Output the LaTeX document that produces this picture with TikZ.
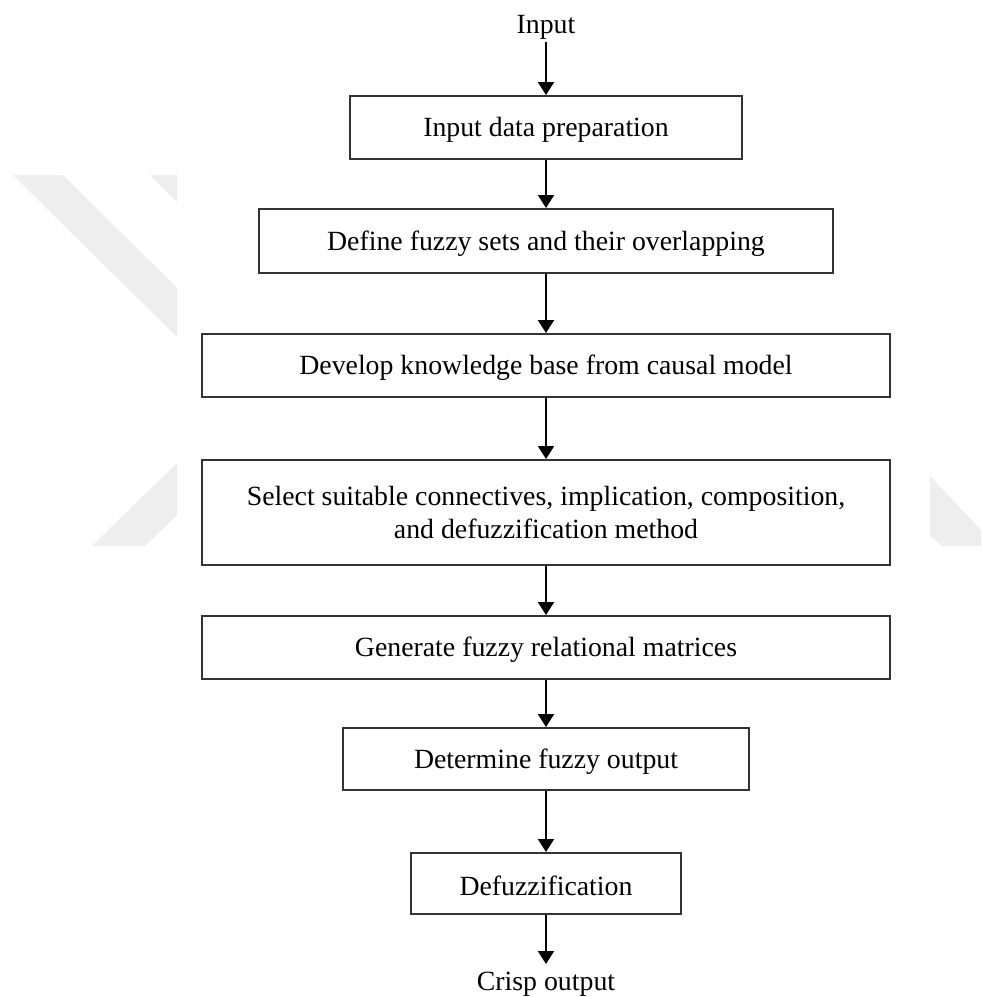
\documentclass[tikz,border=0pt]{standalone}
\usepackage{fontspec}
\setmainfont{Liberation Serif}
\usetikzlibrary{arrows.meta}
\definecolor{markgray}{HTML}{EEEEEE}
\definecolor{framegray}{HTML}{333333}
\newcommand{\lowered}[1]{\raisebox{-1.2pt}[\height][\depth]{#1}}
\tikzset{
  stepbox/.style={draw=framegray, line width=1pt, fill=white, inner sep=0pt,
    align=center, font=\fontsize{13.9}{16.5}\selectfont},
  endtext/.style={inner sep=1pt, font=\fontsize{13.9}{16.5}\selectfont},
  flow/.style={line width=1pt, -{Triangle[length=6.5pt, width=8pt]}}
}
\begin{document}
\begin{tikzpicture}[x=0.5pt, y=-0.5pt]
  \useasboundingbox (0,0) rectangle (981,997);
  % faint background mark
  \fill[markgray] (13,175) -- (63,175) -- (177,288) -- (177,337) -- cycle;
  \fill[markgray] (150,175) -- (177,175) -- (177,202) -- cycle;
  \fill[markgray] (177,463) -- (92,546) -- (145,546) -- (177,515) -- cycle;
  \fill[markgray] (930,476) -- (981,530) -- (981,546) -- (942,546) -- (930,536) -- cycle;

  % steps
  \node[endtext, anchor=south] (in) at (546,42) {Input};
  \node[stepbox, minimum width=196pt, minimum height=31.5pt] (b1) at (546,127.5) {\lowered{Input data preparation}};
  \node[stepbox, minimum width=287pt, minimum height=32pt] (b2) at (546,241) {\lowered{Define fuzzy sets and their overlapping}};
  \node[stepbox, minimum width=344pt, minimum height=31.5pt] (b3) at (546,365.5) {\lowered{Develop knowledge base from causal model}};
  \node[stepbox, minimum width=344pt, minimum height=52.5pt] (b4) at (546,512.5) {Select suitable connectives, implication, composition,\\and defuzzification method};
  \node[stepbox, minimum width=344pt, minimum height=31.5pt] (b5) at (546,647.5) {\lowered{Generate fuzzy relational matrices}};
  \node[stepbox, minimum width=203pt, minimum height=31pt] (b6) at (546,759) {\lowered{Determine fuzzy output}};
  \node[stepbox, minimum width=135pt, minimum height=30.5pt] (b7) at (546,883.5) {\lowered{Defuzzification}};
  \node[endtext, anchor=north] (out) at (546,970) {Crisp output};

  % connectors
  \draw[flow] (in.south) -- (b1.north);
  \draw[flow] (b1.south) -- (b2.north);
  \draw[flow] (b2.south) -- (b3.north);
  \draw[flow] (b3.south) -- (b4.north);
  \draw[flow] (b4.south) -- (b5.north);
  \draw[flow] (b5.south) -- (b6.north);
  \draw[flow] (b6.south) -- (b7.north);
  \draw[flow] (b7.south) -- ([yshift=3pt]out.north);
\end{tikzpicture}
\end{document}
